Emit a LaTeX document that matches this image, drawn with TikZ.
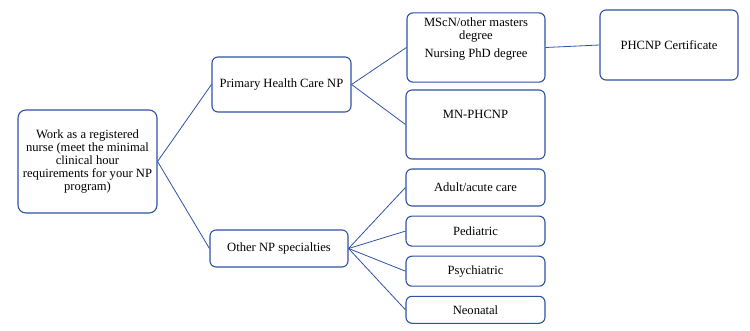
\documentclass[tikz,border=0pt]{standalone}
\usepackage{fontspec}
\setmainfont{Liberation Serif}
\usetikzlibrary{positioning}
\definecolor{npblue}{RGB}{47, 82, 165}

\begin{document}
\begin{tikzpicture}[
  x=1pt, y=-1pt,
  npbox/.style={rectangle, rounded corners=6pt, draw=npblue, line width=1.1pt,
               fill=white, align=center, minimum width=138pt, inner sep=2pt,
               font=\fontsize{12.6}{12.8}\selectfont},
  link/.style={draw=npblue, line width=0.8pt},
]
  \useasboundingbox (0,0) rectangle (750,331);

  \node[npbox, rounded corners=8pt, minimum width=139pt, minimum height=103pt] (rn) at (87.5,161.5)
    {Work as a registered\\nurse (meet the minimal\\clinical hour\\requirements for your NP\\program)};
  \node[npbox, minimum width=139pt, minimum height=55pt] (phc) at (281.5,84.5) {Primary Health Care NP};
  \node[npbox, minimum height=37pt] (other) at (279,248.5) {Other NP specialties};

  % primary health care branch
  \node[npbox] (mscn) at (476,47.5)
    {\rule{0pt}{12pt}MScN/other masters\\degree\\[4.7pt]Nursing PhD degree\rule[-23pt]{0pt}{23pt}};
  \node[npbox, minimum width=139pt] (mn) at (475.5,124.5) {\rule[-38pt]{0pt}{65pt}MN-PHCNP};
  \node[npbox, minimum height=70pt] (cert) at (669,45) {PHCNP Certificate};

  % other specialties
  \node[npbox, minimum width=139pt, minimum height=37pt] (adult) at (475.5,187.5) {Adult/acute care};
  \node[npbox, minimum width=139pt, minimum height=30pt, below=9pt of adult] (ped) {Pediatric};
  \node[npbox, minimum width=139pt, minimum height=30pt, below=9pt of ped] (psy) {Psychiatric};
  \node[npbox, minimum width=139pt, minimum height=27pt, below=9pt of psy] (neo) {Neonatal};

  \draw[link] (rn.east) -- (phc.west);
  \draw[link] (rn.east) -- (other.west);
  \draw[link] (phc.east) -- (mscn.west);
  \draw[link] (phc.east) -- (mn.west);
  \draw[link] (mscn.east) -- (cert.west);
  \foreach \spec in {adult, ped, psy, neo}
    \draw[link] (other.east) -- (\spec.west);
\end{tikzpicture}
\end{document}
